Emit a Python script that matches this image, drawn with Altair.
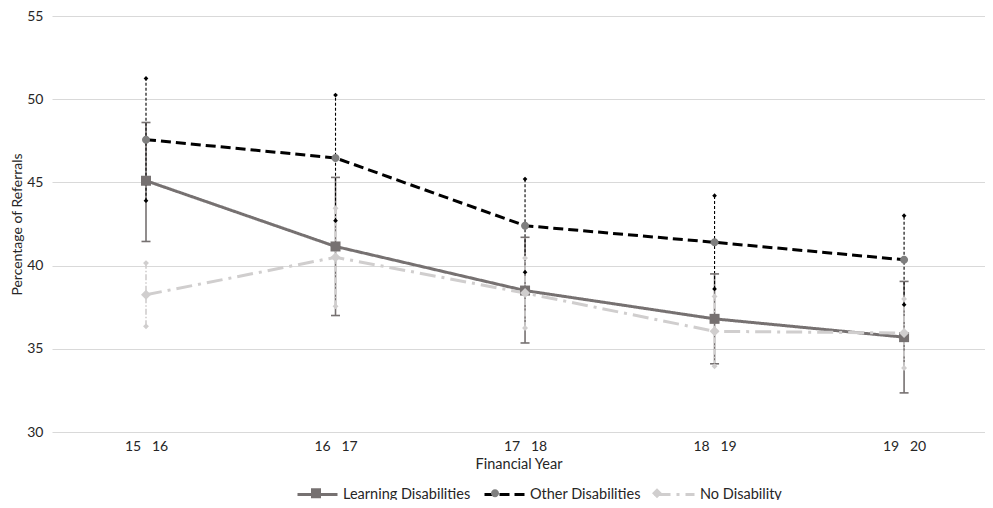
import altair as alt
import pandas as pd

FONT = "Lato"
TEXT = "#262626"

years = ["15\u00a0\u00a0\u00a016", "16\u00a0\u00a0\u00a017", "17\u00a0\u00a0\u00a018",
         "18\u00a0\u00a0\u00a019", "19\u00a0\u00a0\u00a020"]
series_names = ["Learning Disabilities", "Other Disabilities", "No Disability"]

ld_mean = [45.1, 41.15, 38.5, 36.8, 35.7]
ld_lo = [41.45, 37.0, 35.35, 34.1, 32.35]
ld_hi = [48.6, 45.3, 41.7, 39.5, 39.05]

od_mean = [47.57, 46.47, 42.4, 41.4, 40.35]
od_lo = [43.9, 42.7, 39.6, 38.6, 37.65]
od_hi = [51.25, 50.25, 45.2, 44.2, 43.0]

nd_mean = [38.25, 40.5, 38.35, 36.05, 35.95]
nd_lo = [36.35, 37.55, 36.25, 33.95, 33.85]
nd_hi = [40.15, 43.45, 40.45, 38.15, 38.0]

line_colors = ["#767171", "#000000", "#d0cece"]
marker_colors = ["#767171", "#7f7f7f", "#d0cece"]
line_dashes = [[1, 0], [10, 5], [16, 6, 3, 6]]
marker_shapes = [
    "M-0.25,-0.25H0.25V0.25H-0.25Z",
    "M0.2,0A0.2,0.2,0,1,1,-0.2,0A0.2,0.2,0,1,1,0.2,0Z",
    "M0,-0.25L0.25,0L0,0.25L-0.25,0Z",
]

rows = []
caps = []
for k, (s, m, lo, hi) in enumerate(zip(series_names, [ld_mean, od_mean, nd_mean],
                                       [ld_lo, od_lo, nd_lo], [ld_hi, od_hi, nd_hi])):
    for i in range(len(years)):
        rows.append(dict(series=s, series_m=s, order=k, idx=i, mean=m[i], lo=lo[i], hi=hi[i]))
        caps.append(dict(series=s, idx=i, val=lo[i]))
        caps.append(dict(series=s, idx=i, val=hi[i]))
df = pd.DataFrame(rows)
cdf = pd.DataFrame(caps)

label_expr = "[" + ",".join("'" + y + "'" for y in years) + "][datum.value]"

X = alt.X("idx:Q",
          scale=alt.Scale(domain=[-0.496, 4.427], nice=False, zero=False),
          axis=alt.Axis(values=[0, 1, 2, 3, 4], labelExpr=label_expr, title="Financial Year",
                        ticks=False, domain=False, grid=False, labelFontSize=14,
                        labelPadding=7, titlePadding=4, titleFontSize=14.5,
                        titleFontWeight="normal", labelFlush=False, labelOverlap=False))


def Y(field):
    return alt.Y(field + ":Q",
                 scale=alt.Scale(domain=[30, 55], nice=False, zero=False),
                 axis=alt.Axis(values=[30, 35, 40, 45, 50, 55], title="Percentage of Referrals",
                               ticks=False, domain=False, gridColor="#d9d9d9", gridWidth=1.2,
                               labelFontSize=14, labelPadding=9, titleFontSize=14,
                               titleFontWeight="normal", titlePadding=2))


legend_common = dict(orient="none", legendX=244, legendY=457, direction="horizontal",
                     title=None, symbolSize=1600, labelFontSize=14.5, labelOffset=4,
                     columnPadding=7, padding=0, labelFont=FONT, labelColor=TEXT)

leg1 = alt.Legend(symbolType="M-1,0H1", symbolStrokeWidth=3, **legend_common)
leg2 = alt.Legend(symbolStrokeWidth=0, symbolOpacity=1, labelOpacity=0, **legend_common)

base = alt.Chart(df)

# error bars per series
err_styles = [
    dict(color="#767171", dash=[1, 0], width=1.6),
    dict(color="#000000", dash=[3, 2], width=1.1),
    dict(color="#d0cece", dash=[6, 2, 1.5, 2], width=1.6),
]
err_layers = []
for s, st in zip(series_names, err_styles):
    err_layers.append(
        base.transform_filter(alt.datum.series == s).mark_rule(
            color=st["color"], strokeDash=st["dash"], strokeWidth=st["width"]
        ).encode(x=X, y=Y("lo"), y2="hi:Q")
    )

capbase = alt.Chart(cdf)
cap_layers = [
    capbase.transform_filter(alt.datum.series == series_names[0]).mark_tick(
        orient="horizontal", color="#767171", size=9, thickness=1.6, opacity=1
    ).encode(x=X, y=Y("val")),
    capbase.transform_filter(alt.datum.series == series_names[1]).mark_point(
        shape="diamond", filled=True, color="#000000", size=22, opacity=1
    ).encode(x=X, y=Y("val")),
    capbase.transform_filter(alt.datum.series == series_names[2]).mark_point(
        shape="diamond", filled=True, color="#d0cece", size=35, opacity=1
    ).encode(x=X, y=Y("val")),
]

line_sort = alt.EncodingSortField(field="order", op="min")
lines = base.mark_line(strokeWidth=3).encode(
    x=X, y=Y("mean"),
    stroke=alt.Stroke("series:N", sort=line_sort, scale=alt.Scale(range=line_colors),
                      legend=leg1),
    strokeDash=alt.StrokeDash("series:N", sort=line_sort, scale=alt.Scale(range=line_dashes),
                              legend=leg1),
)

points = base.mark_point(filled=True, size=1600, opacity=1, strokeWidth=0).encode(
    x=X, y=Y("mean"),
    fill=alt.Fill("series_m:N", scale=alt.Scale(domain=series_names, range=marker_colors),
                  legend=leg2),
    shape=alt.Shape("series_m:N", scale=alt.Scale(domain=series_names, range=marker_shapes),
                    legend=leg2),
)

chart = alt.layer(*err_layers, *cap_layers, lines, points).properties(
    width=933, height=416,
    autosize=alt.AutoSizeParams(type="none"),
    padding={"left": 44, "top": 8, "right": 0, "bottom": 68},
).configure_view(stroke=None).configure_axis(
    labelFont=FONT, titleFont=FONT, labelColor=TEXT, titleColor=TEXT
)

chart.save("out.html", embed_options={"renderer": "svg", "actions": False})
